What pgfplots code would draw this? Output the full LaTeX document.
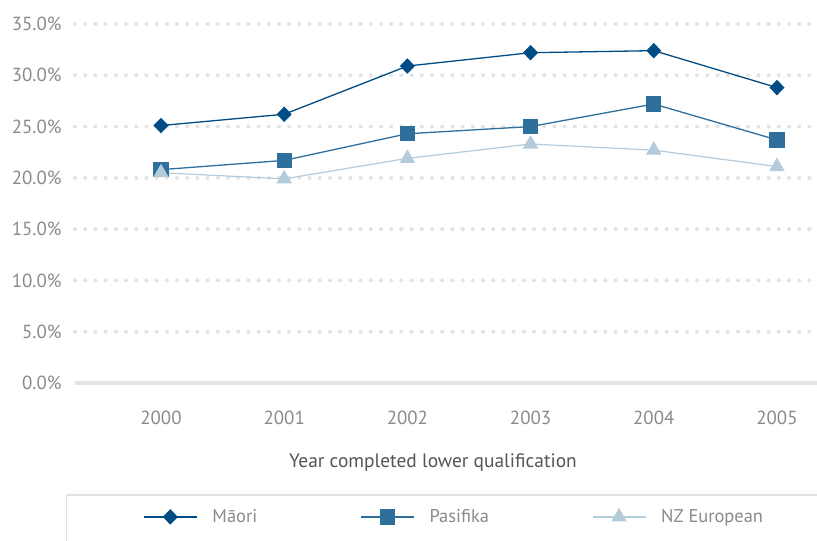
\documentclass[border=0pt]{standalone}
\usepackage{fontspec}
\setmainfont{PT Sans}
\usepackage{pgfplots}
\pgfplotsset{compat=1.18}
\definecolor{maori}{HTML}{004C85}
\definecolor{pasi}{HTML}{2F6F9C}
\definecolor{nzeu}{HTML}{B4CBDC}
\definecolor{gridc}{HTML}{E3E3E3}
\definecolor{ticktext}{HTML}{8A8A8A}
\definecolor{labtext}{HTML}{555555}
\pgfplotstableread{
x y
0 25.1
1 26.2
2 30.9
3 32.2
4 32.4
5 28.8
}\maoritab
\pgfplotstableread{
x y
0 20.8
1 21.7
2 24.3
3 25.0
4 27.2
5 23.7
}\pasitab
\pgfplotstableread{
x y
0 20.5
1 19.9
2 21.9
3 23.3
4 22.7
5 21.1
}\nzetab
\begin{document}
\begin{tikzpicture}[x=1bp,y=1bp]
\useasboundingbox (-75,-158) rectangle (742,383);
\begin{axis}[
  scale only axis, width=742bp, height=359bp,
  xmin=-0.698, xmax=5.325, ymin=0, ymax=35,
  axis line style={draw=none}, major tick length=0pt,
  xtick={0,1,2,3,4,5}, xticklabels={2000,2001,2002,2003,2004,2005},
  ytick={5,10,...,35},
  extra y ticks={0},
  extra y tick style={grid style={gridc, line width=4bp, solid, line cap=butt}},
  ymajorgrids,
  grid style={gridc, line width=4bp, line cap=round, dash pattern=on 0pt off 10.2bp},
  clip=false,
  yticklabel={\pgfmathprintnumber[fixed,fixed zerofill,precision=1,assume math mode=true]{\tick}\%},
  yticklabel style={font=\fontsize{19}{19}\selectfont, text=ticktext, anchor=east, xshift=-10bp},
  xticklabel style={font=\fontsize{19}{19}\selectfont, text=ticktext, anchor=center, yshift=-35bp},
  xlabel={Year completed lower qualification},
  xlabel style={font=\fontsize{19.5}{19.5}\selectfont, text=labtext, at={(axis description cs:0.4825,-0.223)}, anchor=center},
  legend columns=3,
  legend style={at={(axis description cs:0.0916,-0.373)}, anchor=west, draw=none, fill=none,
    inner sep=0pt, font=\fontsize{18.5}{18.5}\selectfont, text=ticktext,
    /tikz/every even column/.append style={column sep=101bp}},
  legend image code/.code={\draw[mark repeat=2,mark phase=2] plot coordinates {(0bp,0bp)(26.5bp,0bp)(53bp,0bp)};\path (66bp,0bp);},
]
\addplot[maori, line width=1.3bp, mark=diamond*, mark size=6.8bp, mark options={solid, xscale=1.3}] table[x=x,y=y] {\maoritab};
\addlegendentry{Māori}
\addplot[pasi, line width=1.3bp, mark=square*, mark size=7bp, mark options={solid}] table[x=x,y=y] {\pasitab};
\addlegendentry{Pasifika}
\addplot[nzeu, line width=1.2bp, mark=triangle*, mark size=7.8bp, mark options={solid}] table[x=x,y=y] {\nzetab};
\addlegendentry{NZ European}
\end{axis}
\draw[gridc, line width=1.5bp] (-8.3,-158) -- (-8.3,-112) -- (742,-112);
\end{tikzpicture}
\end{document}
